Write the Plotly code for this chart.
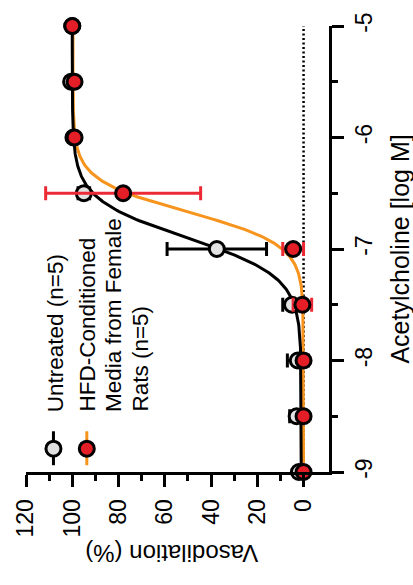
import numpy as np
import plotly.graph_objects as go

# ---- data ----
log_conc = [-9, -8.5, -8, -7.5, -7, -6.5, -6, -5.5, -5]
untreated_mean = [2, 3, 2.5, 5, 37.5, 95, 99.5, 100.5, 100]
untreated_sem = [1, 3, 4.5, 4, 21.5, 2.5, 1, 1, 0.5]
hfd_mean = [0, 0, 0, 0.5, 4.5, 78, 99, 99, 100]
hfd_sem = [0.5, 0.5, 0.5, 4, 4.5, 33.5, 1, 1, 0.5]

# fitted sigmoid parameters (bottom, top, logEC50, hill slope)
untreated_fit = dict(bottom=1.0, top=100.0, logec50=-6.9, hill=2.5)
hfd_fit = dict(bottom=0.0, top=99.7, logec50=-6.67, hill=3.0)

vaso_ticks = [0, 20, 40, 60, 80, 100, 120]
vaso_minor = [10, 30, 50, 70, 90, 110]
logm_ticks = [-9, -8, -7, -6, -5]
logm_labels = ["-9", "-8", "-7", "-6", "-5"]
logm_minor = [-8.5, -7.5, -6.5, -5.5]

untreated_label = ["Untreated (n=5)"]
hfd_label = ["HFD-Conditioned", "Media from Female", "Rats (n=5)"]

# ---- styles ----
BLACK = "#000000"
GRAY_FILL = "#E2E2E2"
RED = "#E41E26"
RED_ERR = "#EC2A36"
ORANGE = "#F7941D"
FONT = "Liberation Sans, Arial, Helvetica, sans-serif"

W, H = 413, 585
L, R, T, B = 20, 84, 12, 113
PW, PH = W - L - R, H - T - B


def px2paper(px, py):
    return (px - L) / PW, (H - B - py) / PH


def hill(x, p):
    return p["bottom"] + (p["top"] - p["bottom"]) / (1 + 10 ** ((p["logec50"] - x) * p["hill"]))


xs = np.linspace(log_conc[0], log_conc[-1], 400)

fig = go.Figure()

fig.add_trace(go.Scatter(x=hill(xs, hfd_fit), y=xs, mode="lines", cliponaxis=False,
                         line=dict(color=ORANGE, width=3), hoverinfo="skip"))
fig.add_trace(go.Scatter(x=hill(xs, untreated_fit), y=xs, mode="lines", cliponaxis=False,
                         line=dict(color=BLACK, width=3), hoverinfo="skip"))

fig.add_trace(go.Scatter(
    x=untreated_mean, y=log_conc, mode="markers", cliponaxis=False,
    marker=dict(size=15, color=GRAY_FILL, line=dict(color=BLACK, width=3)),
    error_x=dict(type="data", array=untreated_sem, color=BLACK, thickness=3, width=7),
))
fig.add_trace(go.Scatter(
    x=hfd_mean, y=log_conc, mode="markers", cliponaxis=False,
    marker=dict(size=15, color=RED, line=dict(color=BLACK, width=3)),
    error_x=dict(type="data", array=hfd_sem, color=RED_ERR, thickness=3, width=7),
))

# dotted zero line
fig.add_shape(type="line", xref="x", yref="y", x0=0, x1=0, y0=log_conc[0], y1=log_conc[-1],
              line=dict(color=BLACK, width=2.5, dash="2px,2.5px"), layer="below")

# legend symbols
for (lx, fill, lcol) in [(48, GRAY_FILL, BLACK), (82, RED, ORANGE)]:
    x0p, y0p = px2paper(lx, 430)
    _, y1p = px2paper(lx, 465)
    fig.add_shape(type="line", xref="paper", yref="paper", x0=x0p, x1=x0p, y0=y0p, y1=y1p,
                  line=dict(color=lcol, width=3))
    cxp, cyp = px2paper(lx, 448)
    fig.add_shape(type="circle", xref="paper", yref="paper", xsizemode="pixel", ysizemode="pixel",
                  xanchor=cxp, yanchor=cyp, x0=-7.5, x1=7.5, y0=-7.5, y1=7.5,
                  fillcolor=fill, line=dict(color=BLACK, width=3))

# legend texts (one annotation per line)
for (lx, txt) in zip([50, 83, 110, 137], untreated_label + hfd_label):
    ax, ay = px2paper(lx, 412)
    fig.add_annotation(text=txt, xref="paper", yref="paper", x=ax, y=ay, xanchor="center",
                       yanchor="bottom", textangle=-90, showarrow=False,
                       font=dict(family=FONT, size=22.5, color=BLACK))

# axis titles
tx, ty = px2paper(169, 556)
fig.add_annotation(text="Vasodilation (%)", xref="paper", yref="paper", x=tx, y=ty,
                   xanchor="center", yanchor="middle", textangle=180, showarrow=False,
                   font=dict(family=FONT, size=24, color=BLACK))
tx, ty = px2paper(401, 242)
fig.add_annotation(text="Acetylcholine [log M]", xref="paper", yref="paper", x=tx, y=ty,
                   xanchor="center", yanchor="middle", textangle=-90, showarrow=False,
                   font=dict(family=FONT, size=25, color=BLACK))

fig.update_layout(
    width=W, height=H, margin=dict(l=L, r=R, t=T, b=B),
    plot_bgcolor="white", paper_bgcolor="white", showlegend=False,
    font=dict(family=FONT, color=BLACK),
    xaxis=dict(range=[120, -11], tickvals=vaso_ticks, ticktext=[str(v) for v in vaso_ticks],
               tickangle=-90, ticks="outside", ticklen=12, tickwidth=3, tickcolor=BLACK,
               showline=True, linewidth=3, linecolor=BLACK, showgrid=False, zeroline=False,
               tickfont=dict(family=FONT, size=23, color=BLACK), ticklabelstandoff=3,
               ticklabeloverflow="allow",
               minor=dict(tickvals=vaso_minor, ticks="outside", ticklen=6, tickwidth=3,
                          tickcolor=BLACK, showgrid=False)),
    yaxis=dict(range=[-9, -5], side="right", tickvals=logm_ticks, ticktext=logm_labels,
               tickangle=-90, ticks="outside", ticklen=12, tickwidth=3, tickcolor=BLACK,
               showline=True, linewidth=3, linecolor=BLACK, showgrid=False, zeroline=False,
               tickfont=dict(family=FONT, size=23, color=BLACK), ticklabelstandoff=0,
               ticklabeloverflow="allow",
               minor=dict(tickvals=logm_minor, ticks="outside", ticklen=6, tickwidth=3,
                          tickcolor=BLACK, showgrid=False)),
)

fig.write_html("out.html")
